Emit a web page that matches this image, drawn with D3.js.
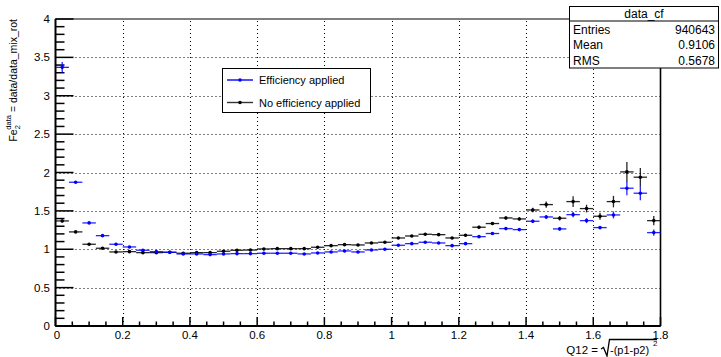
<!DOCTYPE html>
<html lang="en">
  <head>
    <meta charset="UTF-8" />
    <title>data_cf ratio</title>
    <style>
      body { margin: 0; background: #fff; }
      svg { font-family: 'Liberation Sans', Arial, sans-serif; }
    </style>
  </head>
  <body>
    <svg width="721" height="357"></svg>
    <script src="https://d3js.org/d3.v7.min.js"></script>
    <script>
      // bins of width 0.04 from 0 to 1.8
      const binWidth = 0.04;
      const binCenters = d3.range(45).map((i) => +(0.02 + i * binWidth).toFixed(2));

      const effValues = [
        3.37, 1.873, 1.343, 1.177, 1.065, 1.03, 0.987, 0.969, 0.96, 0.939,
        0.939, 0.93, 0.939, 0.943, 0.943, 0.948, 0.948, 0.948, 0.939, 0.952,
        0.965, 0.978, 0.965, 0.991, 1.0, 1.052, 1.073, 1.091, 1.082, 1.047,
        1.073, 1.164, 1.205, 1.269, 1.256, 1.365, 1.421, 1.265, 1.451, 1.373,
        1.282, 1.447, 1.795, 1.73, 1.217
      ];
      const effErrors = [
        0.07, 0.012, 0.008, 0.006, 0.005, 0.005, 0.005, 0.005, 0.005, 0.005,
        0.005, 0.005, 0.005, 0.005, 0.005, 0.005, 0.005, 0.006, 0.006, 0.006,
        0.007, 0.007, 0.008, 0.008, 0.009, 0.01, 0.01, 0.011, 0.012, 0.012,
        0.013, 0.015, 0.016, 0.018, 0.018, 0.022, 0.026, 0.02, 0.035, 0.032,
        0.022, 0.045, 0.09, 0.09, 0.04
      ];
      const noEffValues = [
        1.369, 1.226, 1.065, 1.013, 0.965, 0.969, 0.956, 0.956, 0.96, 0.948,
        0.956, 0.956, 0.974, 0.987, 0.99, 1.004, 1.008, 1.008, 1.008, 1.026,
        1.047, 1.06, 1.056, 1.082, 1.091, 1.147, 1.173, 1.195, 1.19, 1.147,
        1.182, 1.287, 1.335, 1.408, 1.395, 1.512, 1.582, 1.404, 1.621, 1.53,
        1.43, 1.621, 2.008, 1.939, 1.373
      ];
      const noEffErrors = [
        0.02, 0.01, 0.008, 0.006, 0.005, 0.005, 0.005, 0.005, 0.005, 0.005,
        0.005, 0.005, 0.005, 0.005, 0.005, 0.005, 0.006, 0.006, 0.006, 0.007,
        0.007, 0.008, 0.008, 0.009, 0.01, 0.011, 0.012, 0.013, 0.014, 0.014,
        0.016, 0.018, 0.02, 0.022, 0.022, 0.03, 0.04, 0.03, 0.07, 0.05,
        0.045, 0.075, 0.13, 0.12, 0.06
      ];

      const xMajor = [0, 0.2, 0.4, 0.6, 0.8, 1, 1.2, 1.4, 1.6, 1.8];
      const yMajor = [0, 0.5, 1, 1.5, 2, 2.5, 3, 3.5, 4];

      const legendLabels = ['Efficiency applied', 'No efficiency applied'];
      const statsLabels = ['Entries', 'Mean', 'RMS'];
      const statsValues = ['940643', '0.9106', '0.5678'];

      const svg = d3.select('svg');
      const x = d3.scaleLinear().domain([0, 1.8]).range([55.5, 660.5]);
      const y = d3.scaleLinear().domain([0, 4]).range([326, 19]);

      // grid
      const grid = svg.append('g').attr('stroke', '#000').attr('stroke-width', 1).attr('stroke-dasharray', '1,3');
      grid.selectAll('.gx').data(xMajor.slice(1, -1)).enter().append('line')
        .attr('x1', (d) => Math.round(x(d)) + 0.5).attr('x2', (d) => Math.round(x(d)) + 0.5)
        .attr('y1', y(0)).attr('y2', y(4));
      grid.selectAll('.gy').data(yMajor.slice(1, -1)).enter().append('line')
        .attr('y1', (d) => Math.round(y(d)) + 0.5).attr('y2', (d) => Math.round(y(d)) + 0.5)
        .attr('x1', x(0)).attr('x2', x(1.8));

      // frame + ticks
      const axis = svg.append('g').attr('stroke', '#000');
      axis.append('rect').attr('x', x(0)).attr('y', y(4)).attr('width', x(1.8) - x(0)).attr('height', y(0) - y(4))
        .attr('fill', 'none').attr('stroke-width', 1);
      axis.append('line').attr('x1', x(0)).attr('x2', x(1.8)).attr('y1', y(0)).attr('y2', y(0)).attr('stroke-width', 2);
      axis.append('line').attr('x1', x(0)).attr('x2', x(0)).attr('y1', y(0)).attr('y2', y(4)).attr('stroke-width', 2);
      axis.append('line').attr('x1', x(1.8)).attr('x2', x(1.8)).attr('y1', y(0)).attr('y2', y(4)).attr('stroke-width', 1.6);

      const yMinor = d3.range(0, 41).map((i) => i / 10);
      axis.selectAll('.ty').data(yMinor).enter().append('line')
        .attr('stroke-width', 1.5)
        .attr('x1', x(0)).attr('x2', (d, i) => x(0) + (i % 5 === 0 ? 18 : 9))
        .attr('y1', (d) => y(d)).attr('y2', (d) => y(d));
      const xMinor = d3.range(0, 37).map((i) => i * 0.05);
      axis.selectAll('.tx').data(xMinor).enter().append('line')
        .attr('stroke-width', 1.5)
        .attr('x1', (d) => x(d)).attr('x2', (d) => x(d))
        .attr('y1', y(0)).attr('y2', (d, i) => y(0) - (i % 4 === 0 ? 9 : 4.5));

      // tick labels
      svg.append('g').selectAll('text').data(yMajor).enter().append('text')
        .attr('x', 50).attr('y', (d) => y(d) + 4).attr('text-anchor', 'end')
        .attr('font-size', 11.5).text((d) => d);
      svg.append('g').selectAll('text').data(xMajor).enter().append('text')
        .attr('x', (d) => x(d) + (d === 0 ? 1.5 : 0)).attr('y', 338.5).attr('text-anchor', 'middle')
        .attr('font-size', 11.5).text((d) => d);

      // data series
      function drawSeries(vals, errs, color) {
        const g = svg.append('g');
        const pts = binCenters.map((c, i) => ({ c, v: vals[i], e: errs[i] }));
        g.selectAll('.h').data(pts).enter().append('line')
          .attr('x1', (d) => x(d.c - binWidth / 2)).attr('x2', (d) => x(d.c + binWidth / 2))
          .attr('y1', (d) => y(d.v)).attr('y2', (d) => y(d.v))
          .attr('stroke', color).attr('stroke-width', 1.3).attr('stroke-opacity', 0.85);
        g.selectAll('.v').data(pts).enter().append('line')
          .attr('x1', (d) => x(d.c)).attr('x2', (d) => x(d.c))
          .attr('y1', (d) => y(d.v - d.e)).attr('y2', (d) => y(d.v + d.e))
          .attr('stroke', color).attr('stroke-width', 1.3).attr('stroke-opacity', 0.85);
        g.selectAll('circle').data(pts).enter().append('circle')
          .attr('cx', (d) => x(d.c)).attr('cy', (d) => y(d.v)).attr('r', 1.8)
          .attr('fill', color);
      }
      drawSeries(noEffValues, noEffErrors, '#000');
      drawSeries(effValues, effErrors, '#0000ff');

      // legend
      const leg = svg.append('g');
      leg.append('rect').attr('x', 222.5).attr('y', 68.5).attr('width', 148).attr('height', 44)
        .attr('fill', '#fff').attr('stroke', '#000');
      const legColors = ['#0000ff', '#333'];
      legendLabels.forEach((t, i) => {
        const ly = 80 + i * 22.5;
        leg.append('line').attr('x1', 227).attr('x2', 253).attr('y1', ly).attr('y2', ly)
          .attr('stroke', legColors[i]).attr('stroke-width', 1.4);
        leg.append('circle').attr('cx', 240).attr('cy', ly).attr('r', 1.8).attr('fill', i === 0 ? '#0000ff' : '#000');
        leg.append('text').attr('x', 259).attr('y', ly + 4).attr('font-size', 11).text(t);
      });

      // stats box
      const st = svg.append('g');
      st.append('rect').attr('x', 569.5).attr('y', 6.5).attr('width', 149).attr('height', 61.5)
        .attr('fill', '#fff').attr('stroke', '#000');
      st.append('line').attr('x1', 569.5).attr('x2', 718.5).attr('y1', 21).attr('y2', 21).attr('stroke', '#000');
      st.append('text').attr('x', 644).attr('y', 18).attr('text-anchor', 'middle').attr('font-size', 12).text('data_cf');
      statsLabels.forEach((t, i) => {
        const by = 33.5 + i * 15.7;
        st.append('text').attr('x', 573).attr('y', by).attr('font-size', 12).text(t);
        st.append('text').attr('x', 715).attr('y', by).attr('text-anchor', 'end').attr('font-size', 12).text(statsValues[i]);
      });

      // x axis title with radical
      const xt = svg.append('g');
      xt.append('text').attr('x', 598).attr('y', 353.5).attr('text-anchor', 'end').attr('font-size', 11.5).text('Q12 =');
      xt.append('path').attr('d', 'M601,349 L603.5,347.5 L607,356 L609.5,339.5 L657,339.5')
        .attr('fill', 'none').attr('stroke', '#000').attr('stroke-width', 1.3);
      xt.append('text').attr('x', 610).attr('y', 353.5).attr('font-size', 11).text('-(p1-p2)');
      xt.append('text').attr('x', 653).attr('y', 346).attr('font-size', 8).text('2');

      // y axis title
      const yt = svg.append('text').attr('transform', 'translate(17,19) rotate(-90)')
        .attr('text-anchor', 'end').attr('font-size', 10.5);
      yt.append('tspan').text('Fe');
      yt.append('tspan').attr('font-size', 7.5).attr('dy', 3).text('2');
      yt.append('tspan').attr('font-size', 7.5).attr('dx', -4.5).attr('dy', -9).text('data');
      yt.append('tspan').attr('dy', 6).text(' = data/data_mix_rot');
    </script>
  </body>
</html>
